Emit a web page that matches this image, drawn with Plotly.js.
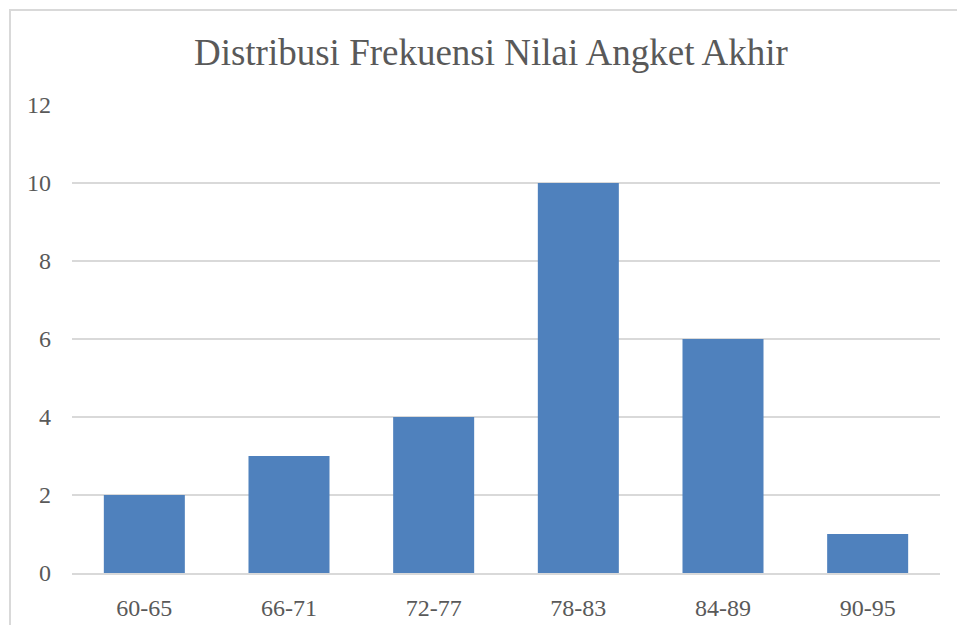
<!DOCTYPE html>
<html>
<head>
<meta charset="utf-8">
<script src="https://cdn.plot.ly/plotly-3.0.1.min.js"></script>
<style>
  html, body { margin: 0; padding: 0; background: #fff; }
  #wrap { position: relative; width: 957px; height: 625px; overflow: hidden; }
  #chart { width: 957px; height: 625px; }
  #frame { position: absolute; left: 9px; top: 9px; width: 960px; height: 640px;
           border-left: 2px solid #d9d9d9; border-top: 2px solid #d9d9d9; pointer-events: none; }
</style>
</head>
<body>
<div id="wrap">
  <div id="chart"></div>
  <div id="frame"></div>
</div>
<script>
const categories = ["60-65", "66-71", "72-77", "78-83", "84-89", "90-95"];
const frequencies = [2, 3, 4, 10, 6, 1];
const yTicks = [0, 2, 4, 6, 8, 10, 12];
const chartTitle = "Distribusi Frekuensi Nilai Angket Akhir";

const fontFamily = "Liberation Serif";

Plotly.newPlot("chart", [{
  type: "bar",
  x: categories,
  y: frequencies,
  marker: { color: "#4F81BD" },
  hoverinfo: "x+y"
}], {
  width: 957,
  height: 625,
  margin: { l: 72, r: 17, t: 105, b: 52 },
  paper_bgcolor: "#ffffff",
  plot_bgcolor: "#ffffff",
  bargap: 0.44,
  showlegend: false,
  font: { family: fontFamily, color: "#595959", size: 24 },
  title: {
    text: chartTitle,
    font: { family: fontFamily, size: 37, color: "#595959" },
    x: 0.513, xref: "container", xanchor: "center",
    y: 0.917, yref: "container", yanchor: "middle"
  },
  xaxis: {
    type: "category",
    showgrid: false,
    showline: true,
    linecolor: "#d9d9d9",
    linewidth: 2,
    ticks: "",
    ticklabelstandoff: 12,
    tickfont: { family: fontFamily, size: 24, color: "#595959" },
    zeroline: false
  },
  yaxis: {
    range: [0, 12],
    tickvals: yTicks,
    ticktext: yTicks.map(String),
    showgrid: true,
    gridcolor: "#d9d9d9",
    gridwidth: 2,
    zeroline: false,
    showline: false,
    ticks: "",
    ticklabelstandoff: 20,
    tickfont: { family: fontFamily, size: 24, color: "#595959" }
  }
}, { displayModeBar: false, staticPlot: true });
</script>
</body>
</html>
